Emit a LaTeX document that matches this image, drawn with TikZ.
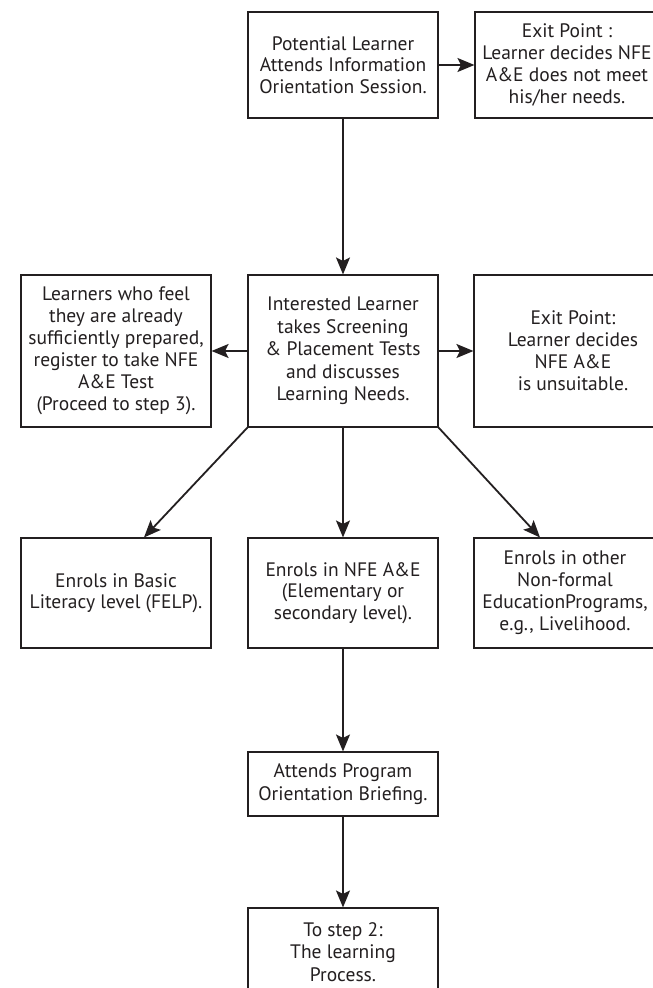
\documentclass[tikz,border=0pt]{standalone}
\usepackage{fontspec}
\setmainfont{PT Sans}
\usetikzlibrary{arrows.meta}
\definecolor{ink}{HTML}{231F20}
\tikzset{
  box/.style={draw=ink, line width=1.1pt, rectangle, inner sep=0pt, align=center,
    text=ink, font=\fontsize{19.5}{21.5}\selectfont},
  arr/.style={draw=ink, line width=1.8pt, -{Stealth[length=17pt,width=14pt,inset=3.5pt]}}
}
\begin{document}
\begin{tikzpicture}[x=1pt,y=-1pt]
\useasboundingbox (0,0) rectangle (653,988);
\clip (0,0) rectangle (653,988);
\fill[white] (0,0) rectangle (653,988);
% boxes
\node[box, minimum width=190pt, minimum height=106pt] (b1) at (343,65)
  {Potential Learner\\Attends Information\\Orientation Session.};
\node[box, minimum width=184pt, minimum height=106pt, font=\fontsize{19.5}{22}\selectfont] (e1) at (567,65)
  {Exit Point :\\Learner decides NFE\\A\&E does not meet\\his/her needs.};
\node[box, minimum width=190pt, minimum height=152pt, font=\fontsize{19.5}{22.5}\selectfont] (b2) at (343,351)
  {Interested Learner\\takes Screening\\\& Placement Tests\\and discusses\\Learning Needs.};
\node[box, minimum width=190pt, minimum height=152pt, font=\fontsize{19.5}{22}\selectfont] (l2) at (116,351)
  {Learners who feel\\they are already\\sufficiently prepared,\\register to take NFE\\A\&E Test\\(Proceed to step 3).};
\node[box, minimum width=198pt, minimum height=152pt, font=\fontsize{19.5}{22}\selectfont] (r2) at (573,351)
  {Exit Point:\\Learner decides\\NFE A\&E\\is unsuitable.};
\node[box, minimum width=190pt, minimum height=110pt] (b3l) at (116,593)
  {Enrols in Basic\\Literacy level (FELP).};
\node[box, minimum width=190pt, minimum height=110pt] (b3m) at (343,593)
  {Enrols in NFE A\&E\\(Elementary or\\secondary level).};
\node[box, minimum width=182pt, minimum height=110pt, font=\fontsize{19.5}{22}\selectfont] (b3r) at (565,593)
  {Enrols in other\\Non-formal\\EducationPrograms,\\e.g., Livelihood.};
\node[box, minimum width=190pt, minimum height=64pt, font=\fontsize{19.5}{23}\selectfont] (att) at (343,784)
  {Attends Program\\Orientation Briefing.};
\node[box, minimum width=190pt, minimum height=88pt, font=\fontsize{19.5}{22.5}\selectfont] (fin) at (343,952)
  {To step 2:\\The learning\\Process.};
% connectors
\draw[arr] (b1.east) -- (e1.west);
\draw[arr] (b1.south) -- (b2.north);
\draw[arr] (b2.west) -- (l2.east);
\draw[arr] (b2.east) -- (r2.west);
\draw[arr] (b2.south west) -- ([xshift=28pt]b3l.north);
\draw[arr] (b2.south east) -- ([xshift=-25pt]b3r.north);
\draw[arr] (b2.south) -- (b3m.north);
\draw[arr] (b3m.south) -- (att.north);
\draw[arr] (att.south) -- (fin.north);
\end{tikzpicture}
\end{document}
